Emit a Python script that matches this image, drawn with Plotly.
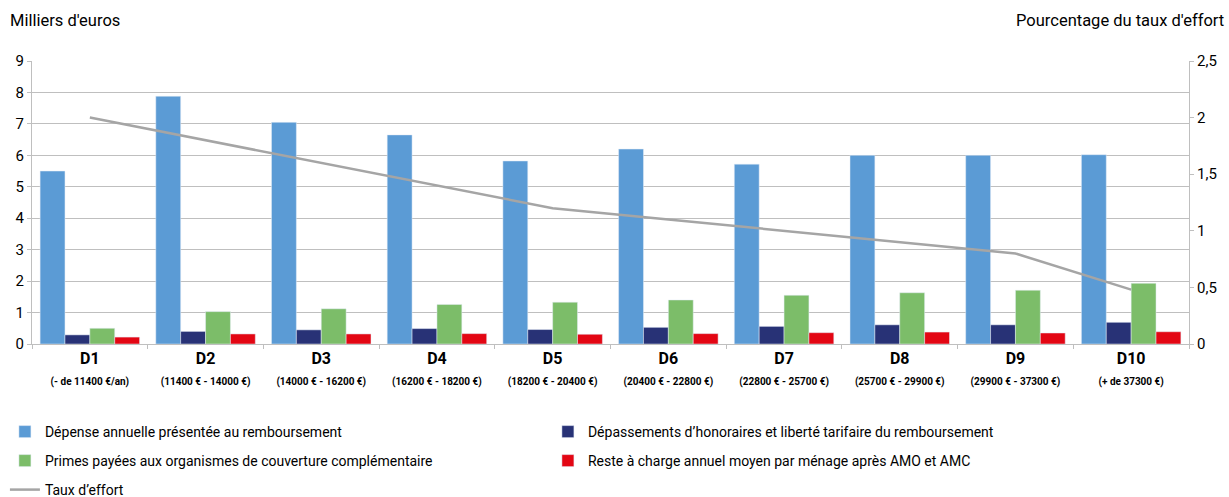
import plotly.graph_objects as go

categories = ["D1", "D2", "D3", "D4", "D5", "D6", "D7", "D8", "D9", "D10"]
ranges = ["(- de 11400 €/an)", "(11400 € - 14000 €)", "(14000 € - 16200 €)", "(16200 € - 18200 €)",
          "(18200 € - 20400 €)", "(20400 € - 22800 €)", "(22800 € - 25700 €)", "(25700 € - 29900 €)",
          "(29900 € - 37300 €)", "(+ de 37300 €)"]
depense = [5.5, 7.88, 7.05, 6.65, 5.82, 6.2, 5.72, 6.0, 6.0, 6.02]
depassements = [0.29, 0.4, 0.45, 0.49, 0.46, 0.53, 0.56, 0.61, 0.61, 0.69]
primes = [0.5, 1.03, 1.12, 1.26, 1.33, 1.4, 1.55, 1.63, 1.71, 1.93]
reste = [0.22, 0.32, 0.32, 0.33, 0.31, 0.33, 0.36, 0.38, 0.35, 0.39]
taux = [2.0, 1.8, 1.6, 1.4, 1.2, 1.1, 1.0, 0.9, 0.8, 0.48]

FONT = "Roboto, sans-serif"
W, H = 1229, 497
ML, MR, MT, MB = 32, 33, 61, 153
PW, PH = W - ML - MR, H - MT - MB


def px_x(px):
    return (px - ML) / PW


def px_y(py):
    return (H - MB - py) / PH


ticktext = [f"<b>{c}</b><br><span style='font-size:10px'><b>{r}</b></span>" for c, r in zip(categories, ranges)]

fig = go.Figure()
fig.add_bar(x=categories, y=depense, name="Dépense annuelle présentée au remboursement",
            marker_color="#5B9BD5", legend="legend")
fig.add_bar(x=categories, y=depassements, name="Dépassements d’honoraires et liberté tarifaire du remboursement",
            marker_color="#283276", legend="legend")
fig.add_bar(x=categories, y=primes, name="Primes payées aux organismes de couverture complémentaire",
            marker_color="#7CBD69", legend="legend2")
fig.add_bar(x=categories, y=reste, name="Reste à charge annuel moyen par ménage après AMO et AMC",
            marker_color="#E30613", legend="legend2")
fig.add_scatter(x=categories, y=taux, name="Taux d’effort", mode="lines", yaxis="y2",
                line=dict(color="#A5A5A5", width=2.5), legend="legend3")

leg = dict(orientation="h", xref="container", yref="container", x=0.004,
           xanchor="left", yanchor="middle", font=dict(size=14, family=FONT),
           entrywidthmode="pixels", entrywidth=498, traceorder="normal", bgcolor="rgba(0,0,0,0)")

fig.update_layout(
    width=W, height=H,
    margin=dict(l=ML, r=MR, t=MT, b=MB),
    paper_bgcolor="white", plot_bgcolor="white",
    separators=", ",
    font=dict(family=FONT, size=14, color="#000000"),
    barmode="group", bargap=0.14, bargroupgap=0,
    showlegend=True,
    legend=dict(leg, y=1 - 432 / H),
    legend2=dict(leg, y=1 - 461 / H),
    legend3=dict(leg, y=1 - 490 / H),
    xaxis=dict(type="category", tickmode="array", tickvals=categories, ticktext=ticktext,
               tickson="boundaries", ticks="outside", ticklen=4, tickcolor="#BFBFBF",
               showline=True, linecolor="#BFBFBF", linewidth=1, showgrid=False,
               tickfont=dict(size=16, family=FONT)),
    yaxis=dict(range=[0, 9], dtick=1, showgrid=True, gridcolor="#BFBFBF", gridwidth=1,
               showline=True, linecolor="#BFBFBF", ticks="outside", ticklen=4, tickcolor="#BFBFBF",
               zeroline=False, tickfont=dict(size=15, family=FONT)),
    yaxis2=dict(range=[0, 2.5], dtick=0.5, overlaying="y", side="right", showgrid=False,
                showline=True, linecolor="#BFBFBF", ticks="outside", ticklen=4, tickcolor="#BFBFBF",
                zeroline=False, tickfont=dict(size=15, family=FONT)),
    annotations=[
        dict(text="Milliers d'euros", xref="paper", yref="paper", x=px_x(8), y=px_y(20),
             xanchor="left", yanchor="middle", showarrow=False, font=dict(size=16.5, family=FONT)),
        dict(text="Pourcentage du taux d'effort", xref="paper", yref="paper", x=px_x(1233),
             y=px_y(20), xanchor="right", yanchor="middle", showarrow=False,
             font=dict(size=16.5, family=FONT)),
    ],
)

fig.write_html("out.html")
